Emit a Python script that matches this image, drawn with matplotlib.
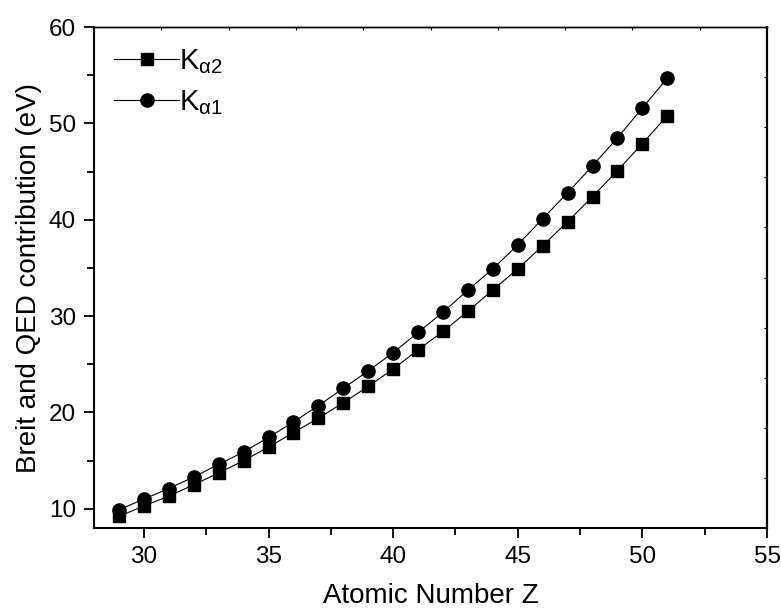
import numpy as np
import matplotlib
matplotlib.use('Agg')
import matplotlib.pyplot as plt

matplotlib.rc('font', family='Liberation Sans')
matplotlib.rc('mathtext', fontset='custom', rm='Liberation Sans',
              it='Liberation Sans:italic', bf='Liberation Sans:bold')

Z = list(range(29, 52))
k_alpha2 = [9.2, 10.3, 11.3, 12.5, 13.7, 15.0, 16.4, 17.9, 19.4, 21.0, 22.7, 24.5,
            26.5, 28.4, 30.5, 32.7, 34.9, 37.3, 39.8, 42.4, 45.1, 47.9, 50.8]
k_alpha1 = [9.9, 11.0, 12.1, 13.3, 14.6, 15.9, 17.4, 19.0, 20.7, 22.5, 24.3, 26.2,
            28.3, 30.4, 32.7, 34.9, 37.4, 40.1, 42.8, 45.6, 48.5, 51.6, 54.7]

fig = plt.figure(figsize=(7.81, 6.10), dpi=100)
ax = fig.add_axes([0.1204, 0.1344, 0.8617, 0.8213])

ax.plot(Z, k_alpha2, color='black', linewidth=0.8, marker='s', markersize=8.5,
        label=r'K$_{\mathrm{\alpha2}}$')
ax.plot(Z, k_alpha1, color='black', linewidth=0.8, marker='o', markersize=9.5,
        label=r'K$_{\mathrm{\alpha1}}$')

ax.set_xlim(28, 55)
ax.set_ylim(8, 60)
ax.set_xticks([30, 35, 40, 45, 50, 55])
ax.set_xticks(np.arange(32.5, 55, 5), minor=True)
ax.set_yticks([10, 20, 30, 40, 50, 60])
ax.set_yticks([15, 25, 35, 45, 55], minor=True)

ax.tick_params(which='both', direction='out', top=False, right=False,
               labelsize=17.5, width=1.3, pad=6)
ax.tick_params(which='major', length=7)
ax.tick_params(which='minor', length=5)

for side in ['left', 'bottom', 'right']:
    ax.spines[side].set_linewidth(1.5)
ax.spines['top'].set_linewidth(1.0)

# small inward ticks on top and right, ten equal divisions
top = ax.secondary_xaxis('top')
top.set_xticks(np.linspace(28, 55, 11))
top.tick_params(direction='in', length=2.5, width=0.8, labeltop=False)
top.spines['top'].set_linewidth(1.0)
right = ax.secondary_yaxis('right')
right.set_yticks(np.linspace(8, 60, 11))
right.tick_params(direction='in', length=2.5, width=0.8, labelright=False)
right.spines['right'].set_linewidth(1.5)

ax.set_xlabel('Atomic Number Z', fontsize=20, labelpad=11)
ax.set_ylabel('Breit and QED contribution (eV)', fontsize=20, labelpad=5)

ax.legend(loc='upper left', frameon=False, fontsize=21, handlelength=2.2,
          handletextpad=0.0, labelspacing=0.42, borderaxespad=0.3,
          bbox_to_anchor=(0.0, 1.0))

fig.savefig('out.png', dpi=100)
